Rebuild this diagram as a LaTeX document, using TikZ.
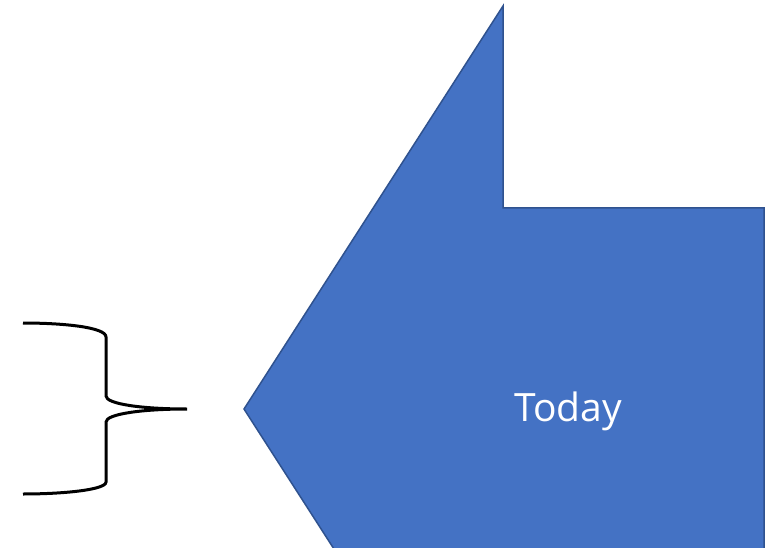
\documentclass[tikz,border=0pt]{standalone}
\usepackage{fontspec}
\setmainfont{Open Sans}
\definecolor{arrowblue}{HTML}{4472C4}
\definecolor{arrowedge}{HTML}{2F528F}

\begin{document}
\begin{tikzpicture}[x=1pt,y=-1pt]
\useasboundingbox (0,0) rectangle (768,548);
\clip (0,0) rectangle (768,548);
% big arrow pointing left
\draw[fill=arrowblue, draw=arrowedge, line width=1.5pt, line join=miter]
  (244,409) -- (503,6) -- (503,208) -- (764,208) -- (764,812) -- (503,812) -- cycle;
\node[text=white, font=\fontsize{39}{42}\selectfont, anchor=base, inner sep=0pt] (today) at (568,421) {Today};
% curly brace
\draw[line width=3pt]
  (23,323) .. controls (62,323) and (106,327) .. (106,337) -- (106,396)
  .. controls (106,404) and (142,409) .. (187,409)
  .. controls (142,409) and (106,414) .. (106,422) -- (106,482)
  .. controls (106,490) and (62,494) .. (23,494);
\end{tikzpicture}
\end{document}
